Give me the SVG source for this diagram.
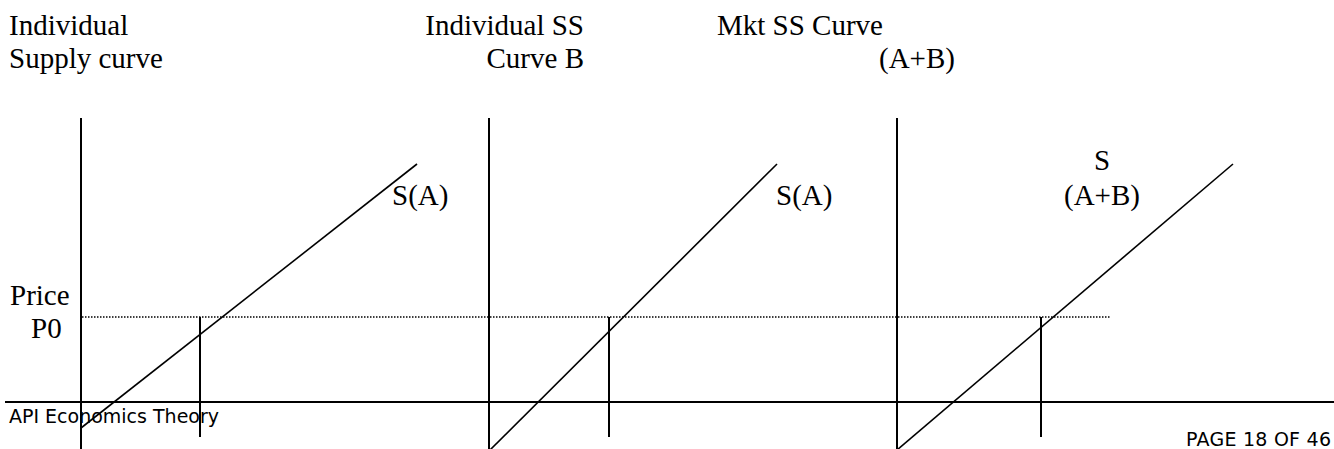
<svg xmlns="http://www.w3.org/2000/svg" width="1334" height="449" viewBox="0 0 1334 449">
<style>
.t{font-family:"Liberation Serif","Times New Roman",serif;font-size:29px;fill:#000}
.s{font-family:"DejaVu Sans",Verdana,sans-serif;font-size:19px;fill:#000}
.ax{stroke:#000;stroke-width:2;fill:none}
.cv{stroke:#000;stroke-width:1.6;fill:none}
.dot{stroke:#000;stroke-width:1.5;stroke-dasharray:1.5 1.5;fill:none}
</style>
<rect width="1334" height="449" fill="#fff"/>
<g id="labels">
<text class="t" x="9" y="35">Individual</text>
<text class="t" x="9" y="68">Supply curve</text>
<text class="t" x="584" y="35" text-anchor="end">Individual SS</text>
<text class="t" x="584" y="68" text-anchor="end">Curve B</text>
<text class="t" x="717" y="35">Mkt SS Curve</text>
<text class="t" x="879" y="68">(A+B)</text>
<text class="t" x="10" y="305">Price</text>
<text class="t" x="31" y="338">P0</text>
</g>
<g id="connectors">
<line class="ax" x1="5" y1="402" x2="1334" y2="402"/>
<line class="dot" x1="82" y1="317" x2="1110" y2="317"/>
</g>
<g id="panelA">
<line class="ax" x1="81" y1="118" x2="81" y2="449"/>
<line class="cv" x1="81" y1="428" x2="417" y2="164"/>
<line class="ax" x1="200" y1="317" x2="200" y2="437"/>
<text class="t" x="392" y="205">S(A)</text>
</g>
<g id="panelB">
<line class="ax" x1="489" y1="118" x2="489" y2="449"/>
<line class="cv" x1="489" y1="451" x2="777" y2="164"/>
<line class="ax" x1="609" y1="317" x2="609" y2="437"/>
<text class="t" x="776" y="205">S(A)</text>
</g>
<g id="panelAB">
<line class="ax" x1="897" y1="118" x2="897" y2="449"/>
<line class="cv" x1="897" y1="450" x2="1233" y2="164"/>
<line class="ax" x1="1041" y1="317" x2="1041" y2="437"/>
<text class="t" x="1102" y="170" text-anchor="middle">S</text>
<text class="t" x="1102" y="205" text-anchor="middle">(A+B)</text>
</g>
<g id="footer">
<text class="s" x="9" y="423" textLength="210">API Economics Theory</text>
<text class="s" x="1186" y="446" textLength="145">PAGE 18 OF 46</text>
</g>
</svg>
